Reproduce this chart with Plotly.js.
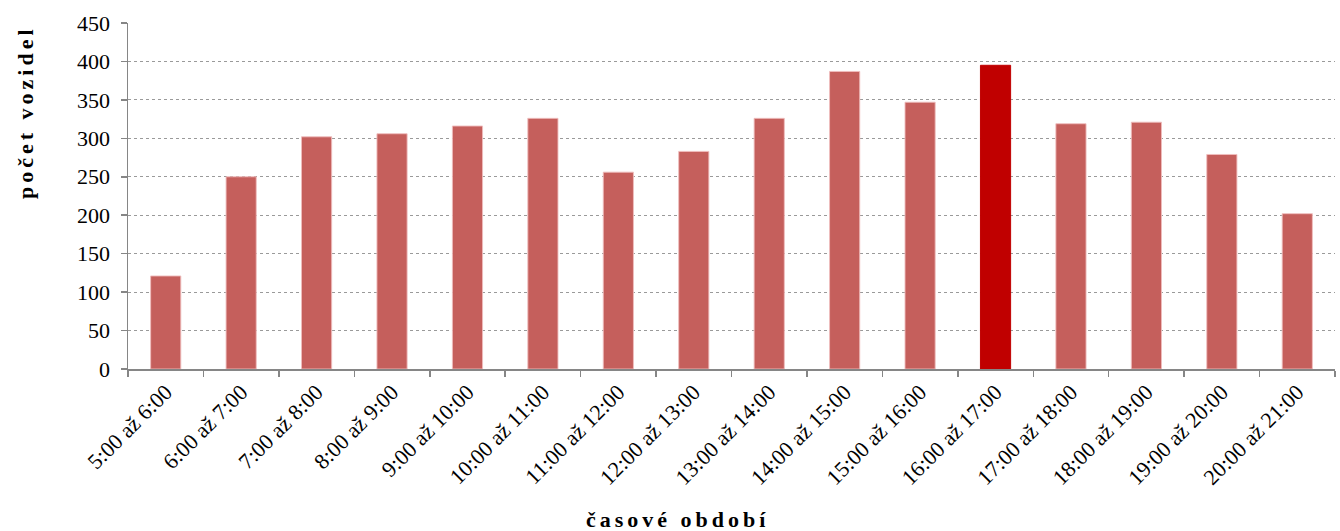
<!DOCTYPE html>
<html>
<head>
<meta charset="utf-8">
<script src="https://cdn.plot.ly/plotly-3.0.1.min.js"></script>
<style>
html,body{margin:0;padding:0;background:#fff;}
.annotation-text.spaced{letter-spacing:4px;}
</style>
</head>
<body>
<div id="chart" style="width:1340px;height:531px;"></div>
<script>
const categories = ["5:00 až 6:00","6:00 až 7:00","7:00 až 8:00","8:00 až 9:00","9:00 až 10:00","10:00 až 11:00","11:00 až 12:00","12:00 až 13:00","13:00 až 14:00","14:00 až 15:00","15:00 až 16:00","16:00 až 17:00","17:00 až 18:00","18:00 až 19:00","19:00 až 20:00","20:00 až 21:00"];
const vehicles = [121, 250, 302, 306, 316, 326, 256, 283, 326, 387, 347, 395, 319, 321, 279, 202];
const peakIndex = vehicles.indexOf(Math.max(...vehicles));
const yTicks = [0, 50, 100, 150, 200, 250, 300, 350, 400, 450];
const xTitle = "časové období";
const yTitle = "počet vozidel";

const barColors = vehicles.map((v, i) => i === peakIndex ? "#C00000" : "#C55F5C");
const lineColors = vehicles.map((v, i) => i === peakIndex ? "#C00000" : "rgba(240,190,190,0.9)");

const font = "Liberation Serif";

const data = [{
  type: "bar",
  x: categories,
  y: vehicles,
  marker: {color: barColors, line: {color: lineColors, width: 1}},
  hoverinfo: "x+y"
}];

const L = 128, R = 5, T = 23, B = 162;
const W = 1340, H = 531;
const pw = W - L - R, ph = H - T - B;

const layout = {
  width: W, height: H,
  margin: {l: L, r: R, t: T, b: B, pad: 0},
  paper_bgcolor: "#fff",
  plot_bgcolor: "#fff",
  showlegend: false,
  bargap: 0.6,
  font: {family: font, size: 22, color: "#000"},
  xaxis: {
    type: "category",
    tickangle: -45,
    tickfont: {family: font, size: 22, color: "#000"},
    showline: true, linecolor: "#868686", linewidth: 1.5,
    ticks: "outside", tickson: "boundaries", ticklen: 6, tickcolor: "#868686", tickwidth: 1.5,
    showgrid: false,
    automargin: false
  },
  yaxis: {
    range: [0, 450],
    tickvals: yTicks,
    tickfont: {family: font, size: 22, color: "#000"},
    showline: true, linecolor: "#868686", linewidth: 1.5,
    ticks: "outside", ticklen: 6, tickcolor: "#868686", tickwidth: 1.5,
    showgrid: true, gridcolor: "#9a9a9a", griddash: "dot", gridwidth: 1,
    zeroline: false,
    ticklabelstandoff: 6,
    automargin: false
  },
  annotations: [
    {
      text: "<b>" + yTitle + "</b>",
      xref: "paper", yref: "paper",
      x: (25 - L) / pw, y: (H - B - 112) / ph,
      xanchor: "center", yanchor: "middle",
      textangle: -90, showarrow: false,
      font: {family: font, size: 22, color: "#000"}
    },
    {
      text: "<b>" + xTitle + "</b>",
      xref: "paper", yref: "paper",
      x: (678 - L) / pw, y: -(519 - (H - B)) / ph,
      xanchor: "center", yanchor: "middle",
      showarrow: false,
      font: {family: font, size: 22, color: "#000"}
    }
  ]
};

Plotly.newPlot("chart", data, layout, {displayModeBar: false, staticPlot: true}).then(() => {
  document.querySelectorAll(".annotation-text").forEach(t => t.classList.add("spaced"));
});
</script>
</body>
</html>
